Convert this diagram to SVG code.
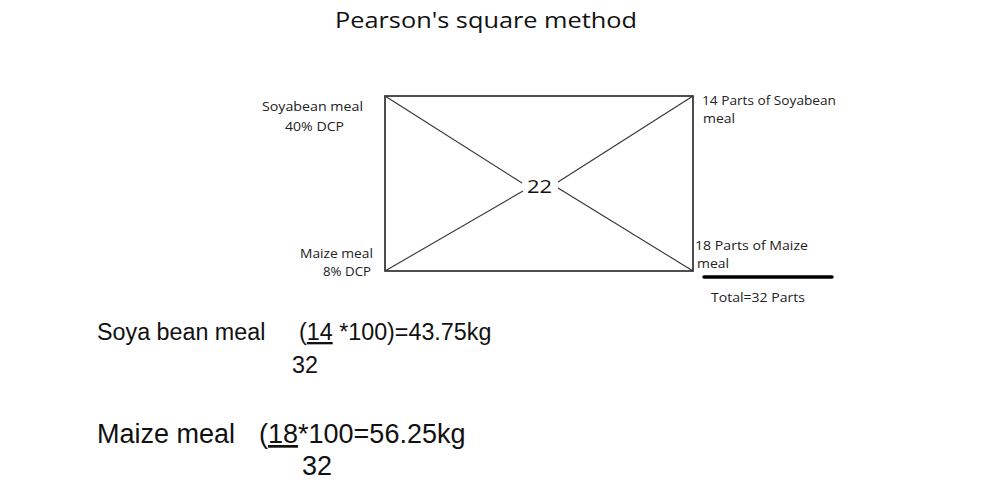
<svg xmlns="http://www.w3.org/2000/svg" width="1008" height="500" viewBox="0 0 1008 500">
<style>
.title{font-family:"Open Sans","DejaVu Sans",sans-serif;font-size:22px;fill:#111;}
.lbl{font-family:"Open Sans","DejaVu Sans",sans-serif;font-size:12.5px;fill:#222;}
.num{font-family:"Open Sans","DejaVu Sans",sans-serif;font-size:19px;fill:#111;}
.eq1{font-family:"Liberation Sans",Arial,sans-serif;font-size:23.3px;fill:#111;}
.eq2{font-family:"Liberation Sans",Arial,sans-serif;font-size:27px;fill:#111;}
.box{fill:none;stroke:#222;stroke-width:1.6;}
.diag{stroke:#333;stroke-width:1.1;fill:none;}
.u{text-decoration:underline;}
</style>
<rect width="1008" height="500" fill="#fff"/>
<text class="title" x="335" y="28" textLength="302" lengthAdjust="spacingAndGlyphs">Pearson's square method</text>

<g id="square">
<rect class="box" x="385" y="96" width="308" height="175"/>
<text class="num" x="527" y="193" textLength="25" lengthAdjust="spacingAndGlyphs">22</text>
</g>

<g id="connectors">
<line class="diag" x1="385" y1="96" x2="522" y2="183"/>
<line class="diag" x1="693" y1="96" x2="558" y2="182"/>
<line class="diag" x1="385" y1="271" x2="523" y2="191"/>
<line class="diag" x1="693" y1="271" x2="558" y2="188"/>
<line x1="704" y1="277" x2="832" y2="277" stroke="#000" stroke-width="3.5" stroke-linecap="round"/>
</g>

<g id="soyabean">
<text class="lbl" x="262" y="111" textLength="101" lengthAdjust="spacingAndGlyphs">Soyabean meal</text>
<text class="lbl" x="285" y="131" textLength="59" lengthAdjust="spacingAndGlyphs">40% DCP</text>
</g>
<g id="maize">
<text class="lbl" x="300" y="258" textLength="73" lengthAdjust="spacingAndGlyphs">Maize meal</text>
<text class="lbl" x="323" y="276" textLength="48" lengthAdjust="spacingAndGlyphs">8% DCP</text>
</g>
<g id="soy-parts">
<text class="lbl" x="702" y="105" textLength="134" lengthAdjust="spacingAndGlyphs">14 Parts of Soyabean</text>
<text class="lbl" x="703" y="123" textLength="32" lengthAdjust="spacingAndGlyphs">meal</text>
</g>
<g id="maize-parts">
<text class="lbl" x="695" y="250" textLength="113" lengthAdjust="spacingAndGlyphs">18 Parts of Maize</text>
<text class="lbl" x="697" y="268" textLength="32" lengthAdjust="spacingAndGlyphs">meal</text>
</g>
<g id="total">
<text class="lbl" x="711" y="302" textLength="94" lengthAdjust="spacingAndGlyphs">Total=32 Parts</text>
</g>

<g id="calc-soya">
<text class="eq1" x="97" y="340">Soya bean meal</text>
<text class="eq1" x="299" y="340">(<tspan class="u">14</tspan> *100)=43.75kg</text>
<text class="eq1" x="292" y="373">32</text>
</g>
<g id="calc-maize">
<text class="eq2" x="97" y="443">Maize meal</text>
<text class="eq2" x="259" y="443">(<tspan class="u">18</tspan>*100=56.25kg</text>
<text class="eq2" x="302" y="475">32</text>
</g>
</svg>
